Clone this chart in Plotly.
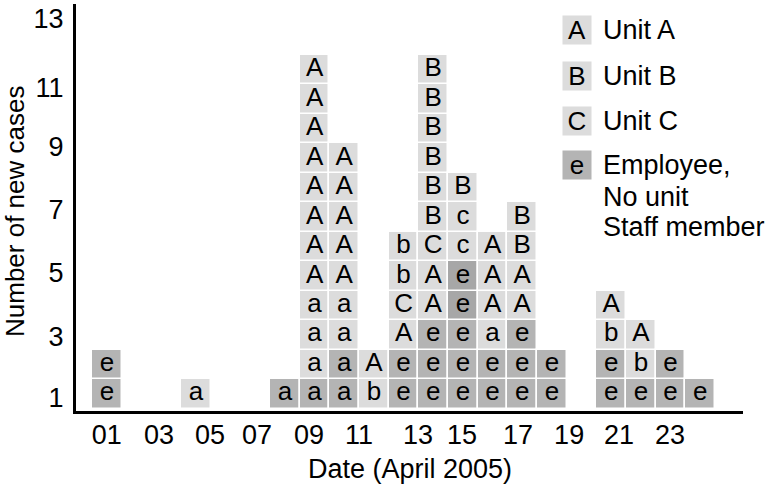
import plotly.graph_objects as go

# ---- data -------------------------------------------------------------
# column positions (one column per day slot) and the stacked case labels, bottom -> top
column_pos = [0, 3, 6, 7, 8, 9, 10, 11, 12, 13, 14, 15, 17, 18, 19, 20]
case_labels = [
    "ee",
    "a",
    "a",
    "aaaaAAAAAAAA",
    "aaaaAAAAA",
    "bA",
    "eeACbb",
    "eeeAACBBBBBB",
    "eeeeeccB",
    "eeaAAA",
    "eeeAABB",
    "ee",
    "eebA",
    "ebA",
    "ee",
    "e",
]
# shading of each case box: l = light, d = dark, x = darker
case_shades = [
    "dd",
    "l",
    "d",
    "dlllllllllll",
    "ddlllllll",
    "ll",
    "ddllll",
    "dddlllllllll",
    "dddxxlll",
    "ddllll",
    "dddllll",
    "dd",
    "ddll",
    "dll",
    "dd",
    "d",
]
tick_pos = [0.0, 1.76, 3.48, 5.06, 6.81, 8.5, 10.49, 11.97, 13.86, 15.58, 17.26, 18.98]
tick_text = ["01", "03", "05", "07", "09", "11", "13", "15", "17", "19", "21", "23"]
ytick_pos = [0.86, 2.94, 5.12, 7.26, 9.4, 11.4, 13.72]
ytick_text = ["1", "3", "5", "7", "9", "11", "13"]
legend_keys = ["A", "B", "C", "e"]
legend_names = ["Unit A", "Unit B", "Unit C", "Employee,"]
legend_extra = ["No unit", "Staff member"]
x_title = "Date (April 2005)"
y_title = "Number of new cases"

shade_color = {"l": "#dcdcdc", "d": "#b4b4b4", "x": "#a7a7a7"}
FONT = "Liberation Sans, Arial, Helvetica, sans-serif"

xs, rows, texts, colors = [], [], [], []
for pos, labs, shs in zip(column_pos, case_labels, case_shades):
    for i, (lab, sh) in enumerate(zip(labs, shs)):
        xs.append(pos)
        rows.append(i + 1)
        texts.append(lab)
        colors.append(shade_color[sh])

fig = go.Figure()
fig.add_trace(go.Bar(
    x=xs, y=[1] * len(xs), base=[r - 0.5 for r in rows], width=1,
    marker=dict(color=colors, line=dict(color="white", width=1.5)),
    hoverinfo="skip", showlegend=False,
))
fig.add_trace(go.Scatter(
    x=xs, y=rows, mode="text", text=texts,
    textfont=dict(family=FONT, size=26, color="black"),
    hoverinfo="skip", showlegend=False, cliponaxis=False,
))

W, H = 773, 486
ml, mr, mt, mb = 76, 30, 4, 75
pw, ph = W - ml - mr, H - mt - mb


def px(x):
    return (x - ml) / pw


def py(y):
    return 1 - (y - mt) / ph


# legend drawn as annotations
legend_y = [30, 76, 121, 165]
for key, name, yy in zip(legend_keys, legend_names, legend_y):
    col = shade_color["d"] if key == "e" else shade_color["l"]
    fig.add_annotation(x=px(577), y=py(yy), xref="paper", yref="paper",
                       text=key, showarrow=False, width=28, height=28,
                       bgcolor=col, borderpad=0,
                       font=dict(family=FONT, size=26, color="black"),
                       xanchor="center", yanchor="middle")
    fig.add_annotation(x=px(601), y=py(yy), xref="paper", yref="paper",
                       text=name, showarrow=False, xanchor="left", yanchor="middle",
                       font=dict(family=FONT, size=27, color="black"))
for i, t in enumerate(legend_extra):
    fig.add_annotation(x=px(601), y=py(197 + 30 * i), xref="paper", yref="paper",
                       text=t, showarrow=False, xanchor="left", yanchor="middle",
                       font=dict(family=FONT, size=27, color="black"))

# axis titles
fig.add_annotation(x=px(410), y=py(469), xref="paper", yref="paper",
                   text=x_title, showarrow=False, xanchor="center", yanchor="middle",
                   font=dict(family=FONT, size=27, color="black"))
fig.add_annotation(x=px(15), y=py(212), xref="paper", yref="paper",
                   text=y_title, showarrow=False, textangle=-90,
                   xanchor="center", yanchor="middle",
                   font=dict(family=FONT, size=26, color="black"))

fig.update_layout(
    width=W, height=H,
    margin=dict(l=ml, r=mr, t=mt, b=mb, autoexpand=False),
    paper_bgcolor="white", plot_bgcolor="white",
    bargap=0, barmode="overlay",
    font=dict(family=FONT, size=27, color="black"),
    xaxis=dict(range=[-1.04, 21.44], tickvals=tick_pos, ticktext=tick_text,
               showgrid=False, zeroline=False, showline=True, linecolor="black",
               linewidth=3, ticks="", ticklabelstandoff=-2, automargin=False,
               tickfont=dict(family=FONT, size=27)),
    yaxis=dict(range=[0.42, 14.23], tickvals=ytick_pos, ticktext=ytick_text,
               showgrid=False, zeroline=False, showline=True, linecolor="black",
               linewidth=3, ticks="", ticklabelstandoff=4, automargin=False,
               tickfont=dict(family=FONT, size=27)),
)

fig.write_html("out.html", config={"displayModeBar": False},
               post_script="document.body.style.margin='0';document.body.style.padding='0';")
